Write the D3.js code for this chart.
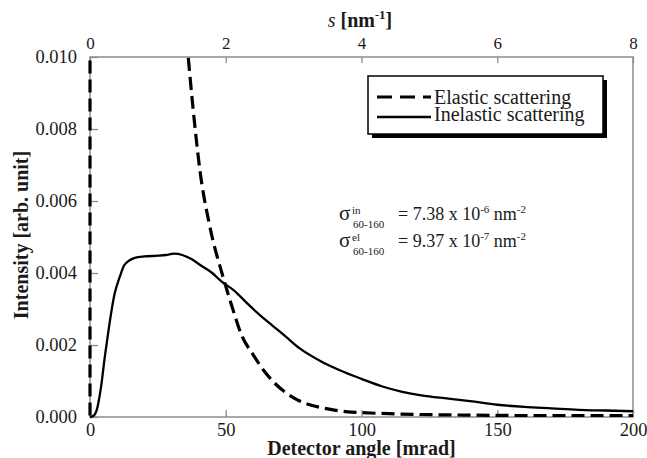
<!DOCTYPE html>
<html><head><meta charset="utf-8">
<script src="https://cdn.jsdelivr.net/npm/d3@7"></script>
<style>
body{margin:0;background:#fff;}
svg, svg text{font-family:"Liberation Serif","DejaVu Serif","Noto Serif",Times,serif !important;}
</style></head>
<body><svg id="c" width="647" height="458"></svg>
<script>
// ---- data ----
const inelasticAngle = [0,1,2.5,4,5.5,7,9,11,12.5,14,16.5,20,25,28,31,34,37,41,45,48.5,53,58,63,67,72,77,85,92,100,108,115,122,132,140,150,160,170,180,190,200];
const inelasticValue = [0,0.00002,0.0002,0.0008,0.0017,0.0025,0.0034,0.0039,0.0042,0.00432,0.00442,0.00446,0.00448,0.0045,0.00454,0.0045,0.0044,0.0042,0.004,0.00376,0.00352,0.00315,0.0028,0.00255,0.00224,0.00192,0.00155,0.0013,0.00106,0.00084,0.0007,0.0006,0.00051,0.00044,0.00034,0.00028,0.00024,0.0002,0.00018,0.00016];
const elasticAngle = [0,0.3,5,15,25,32,36,38,40.5,44,49,52,56,60,64,68,72,76,80,85,90,95,100,110,120,140,160,180,200];
const elasticValue = [0,0.5,0.2,0.06,0.022,0.0135,0.0101,0.0085,0.0068,0.0053,0.00385,0.0031,0.0022,0.0017,0.00125,0.0009,0.00064,0.00045,0.00032,0.00022,0.00015,0.0001,0.00008,0.00005,0.00003,0.00001,0,0,0];
const xTicks = [0,50,100,150,200];
const yTicks = [0,0.002,0.004,0.006,0.008,0.010];
const sTicks = [0,2,4,6,8];
const legendLabels = ["Elastic scattering","Inelastic scattering"];

// ---- layout ----
const L=90,R=633,T=57,B=417;
const svg=d3.select("#c");
const x=d3.scaleLinear().domain([0,200]).range([L,R]);
const y=d3.scaleLinear().domain([0,0.010]).range([B,T]);
const s=d3.scaleLinear().domain([0,8]).range([L,R]);
const grey="#8c8c8c", ink="#1a1a1a";

svg.append("defs").append("clipPath").attr("id","clip")
  .append("rect").attr("x",L-3).attr("y",T).attr("width",R-L+3).attr("height",B-T+2);

// axes
const gx=svg.append("g").attr("transform",`translate(0,${B})`)
  .call(d3.axisBottom(x).tickValues(xTicks).tickFormat(d3.format("d")).tickSizeInner(-7).tickSizeOuter(0).tickPadding(6));
const gy=svg.append("g").attr("transform",`translate(${L},0)`)
  .call(d3.axisLeft(y).tickValues(yTicks).tickFormat(d3.format(".3f")).tickSizeInner(-8).tickSizeOuter(0).tickPadding(13));
const gs=svg.append("g").attr("transform",`translate(0,${T})`)
  .call(d3.axisTop(s).tickValues(sTicks).tickFormat(d3.format("d")).tickSizeInner(-6).tickSizeOuter(0).tickPadding(8));
[gx,gy,gs].forEach(g=>{
  g.attr("font-family",null);
  g.select(".domain").remove();
  g.selectAll(".tick line").attr("stroke",grey).attr("stroke-width",1.3);
  g.selectAll(".tick text").attr("fill",ink).style("font-size","18.5px");
});
gs.selectAll(".tick text").style("font-size","17px");
gx.selectAll(".tick text").attr("dy","0.72em");

// frame
svg.append("rect").attr("x",L).attr("y",T).attr("width",R-L).attr("height",B-T)
  .attr("fill","none").attr("stroke",grey).attr("stroke-width",1.5);

// curves
const line=d3.line().curve(d3.curveMonotoneX);
const ptsIn=inelasticAngle.map((a,i)=>[x(a),y(inelasticValue[i])]);
const ptsEl=elasticAngle.map((a,i)=>[x(a),y(elasticValue[i])]);
const gc=svg.append("g").attr("clip-path","url(#clip)");
gc.append("path").attr("d",line(ptsIn)).attr("fill","none").attr("stroke","#000").attr("stroke-width",2.3);
gc.append("path").attr("d",line(ptsEl)).attr("fill","none").attr("stroke","#000").attr("stroke-width",3.2)
  .attr("stroke-dasharray","13,6").attr("transform","translate(0,-1.5)");

// legend
const lg=svg.append("g");
lg.append("rect").attr("x",372).attr("y",80).attr("width",235).attr("height",58).attr("fill","#000");
lg.append("rect").attr("x",368).attr("y",76).attr("width",235).attr("height",58).attr("fill","#fff").attr("stroke","#000").attr("stroke-width",1.5);
lg.append("line").attr("x1",377).attr("x2",431).attr("y1",97).attr("y2",97).attr("stroke","#000").attr("stroke-width",3.2).attr("stroke-dasharray","15,8");
lg.append("line").attr("x1",377).attr("x2",431).attr("y1",117).attr("y2",117).attr("stroke","#000").attr("stroke-width",2.3);
lg.selectAll("text.lt").data(legendLabels).join("text").attr("class","lt")
  .attr("x",434).attr("y",(d,i)=>103.5+i*17).attr("fill",ink).style("font-size","20px").text(d=>d);

// annotation
function sigma(yb,sup,val,exp){
  const t=svg.append("text").attr("fill",ink).style("font-size","18px");
  t.append("tspan").attr("x",339).attr("y",yb).style("font-size","21px").text("σ");
  t.append("tspan").attr("x",352).attr("y",yb-6).style("font-size","11px").text(sup);
  t.append("tspan").attr("x",353).attr("y",yb+8).style("font-size","11px").text("60-160");
  t.append("tspan").attr("x",398).attr("y",yb).text("= "+val+" x 10");
  t.append("tspan").attr("dy",-7).style("font-size","11px").text(exp);
  t.append("tspan").attr("dy",7).text(" nm");
  t.append("tspan").attr("dy",-7).style("font-size","11px").text("-2");
}
sigma(220,"in","7.38","-6");
sigma(247,"el","9.37","-7");

// axis titles
svg.append("text").attr("x",(L+R)/2).attr("y",455).attr("text-anchor","middle")
  .attr("fill",ink).style("font-size","20px").style("font-weight","bold").text("Detector angle [mrad]");
svg.append("text").attr("transform",`translate(28,235) rotate(-90)`).attr("text-anchor","middle")
  .attr("fill",ink).style("font-size","20px").style("font-weight","bold").text("Intensity [arb. unit]");
const st=svg.append("text").attr("x",360).attr("y",27).attr("text-anchor","middle").attr("fill",ink).style("font-size","20px");
st.append("tspan").style("font-style","italic").text("s ");
st.append("tspan").style("font-weight","bold").text("[nm");
st.append("tspan").attr("dy",-8).style("font-size","12px").text("-");
st.append("tspan").style("font-size","13px").style("font-weight","bold").text("1");
st.append("tspan").attr("dy",8).style("font-weight","bold").text("]");
</script></body></html>
